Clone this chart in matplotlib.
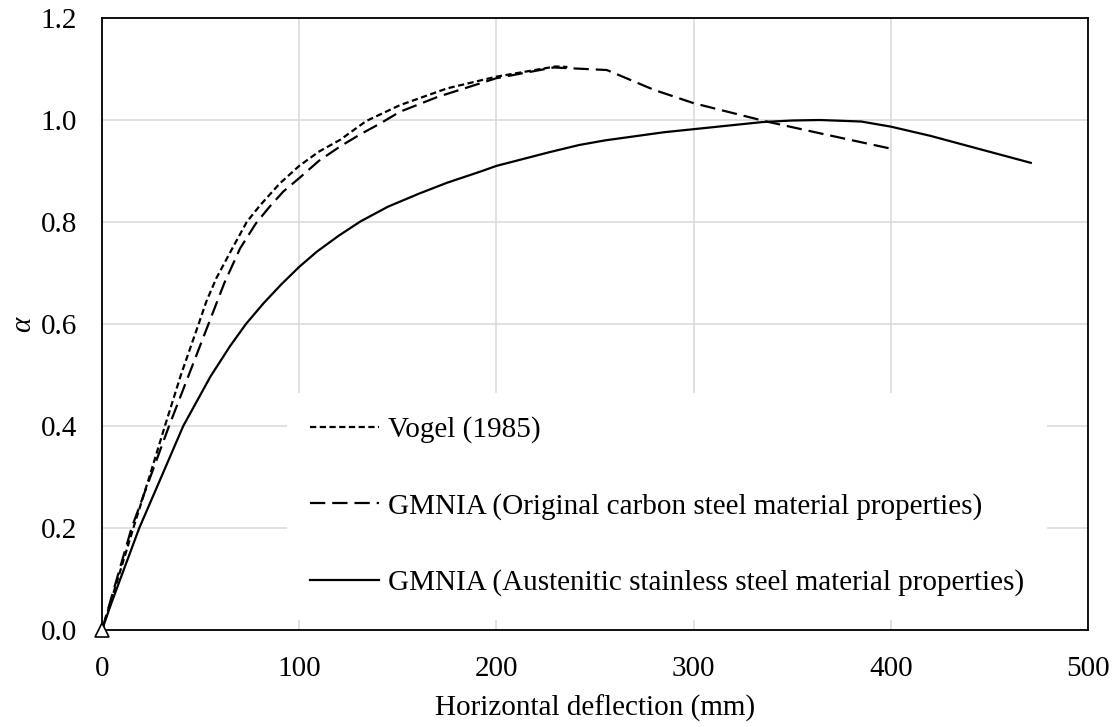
import matplotlib
matplotlib.use('Agg')
from matplotlib import pyplot as plt

# data
vogelX = [0, 8, 15.9, 24, 31.9, 40, 49, 53, 58, 66.6, 73.4, 80, 90, 100, 110, 120.7, 134, 151, 175, 200, 215, 230, 236]
vogelY = [0, 0.1, 0.2, 0.3, 0.4, 0.5, 0.6, 0.645, 0.69, 0.752, 0.8, 0.832, 0.875, 0.91, 0.938, 0.961, 0.998, 1.029, 1.062, 1.085, 1.095, 1.105, 1.104]

carbonX = [0, 15, 34, 44, 54, 62, 70, 78, 85, 92, 100, 110, 120.7, 131, 141, 151, 170, 200, 229, 256, 280, 300, 337, 364, 401]
carbonY = [0, 0.2, 0.4, 0.5, 0.6, 0.68, 0.748, 0.797, 0.83, 0.86, 0.886, 0.92, 0.948, 0.972, 0.993, 1.016, 1.045, 1.082, 1.103, 1.098, 1.059, 1.033, 0.997, 0.974, 0.943]

stainlessX = [0, 4.5, 9.1, 18.9, 29.4, 41.2, 55, 65, 73, 82, 91, 100, 109, 120, 131, 145, 161, 175, 192, 200, 212, 227, 242, 255, 270, 285, 300, 320, 335, 350, 364, 385, 400, 420, 445, 471]
stainlessY = [0, 0.05, 0.098, 0.2, 0.294, 0.4, 0.497, 0.557, 0.6, 0.641, 0.678, 0.712, 0.742, 0.773, 0.801, 0.83, 0.856, 0.877, 0.899, 0.91, 0.922, 0.937, 0.951, 0.96, 0.968, 0.976, 0.982, 0.99, 0.996, 0.999, 1.0, 0.997, 0.987, 0.969, 0.943, 0.916]

labels = ['Vogel (1985)',
          'GMNIA (Original carbon steel material properties)',
          'GMNIA (Austenitic stainless steel material properties)']

xTicks = [0, 100, 200, 300, 400, 500]
yTicks = [0.0, 0.2, 0.4, 0.6, 0.8, 1.0, 1.2]

plt.rcParams['font.family'] = ['Liberation Serif', 'DejaVu Serif']
plt.rcParams['lines.scale_dashes'] = False
fontSize = 21

fig = plt.figure(figsize=(11.18, 7.27), dpi=100)
ax = fig.add_axes([102/1118, 1 - 630/727, 986/1118, 612/727])

ax.plot(vogelX, vogelY, color='black', lw=1.6, dashes=(4.5, 2.5), label=labels[0])
ax.plot(carbonX, carbonY, color='black', lw=1.6, dashes=(11, 5), label=labels[1])
ax.plot(stainlessX, stainlessY, color='black', lw=1.6, label=labels[2])
#support point at the origin
ax.plot([0], [0], marker='^', markersize=10, markerfacecolor='white',
        markeredgecolor='black', markeredgewidth=1.2, ls='none', clip_on=False, zorder=10)

ax.set_xlim(xTicks[0], xTicks[-1])
ax.set_ylim(yTicks[0], yTicks[-1])
ax.set_xticks(xTicks)
ax.set_yticks(yTicks)
ax.set_yticklabels(['{:.1f}'.format(v) for v in yTicks])
ax.tick_params(axis='both', length=0, labelsize=fontSize)
ax.tick_params(axis='x', pad=19)
ax.tick_params(axis='y', pad=18)

ax.grid(True, color='#d9d9d9', lw=1.1)
ax.set_axisbelow(True)
for spine in ax.spines.values():
    spine.set_linewidth(1.3)
    spine.set_color('black')
    spine.set_zorder(6)

ax.set_xlabel('Horizontal deflection (mm)', fontsize=fontSize, labelpad=9)
ax.set_ylabel('α', fontsize=fontSize, style='italic', labelpad=3)

leg = ax.legend(loc='upper left', bbox_to_anchor=(0.1876, 0.387), borderaxespad=0,
                fontsize=fontSize, frameon=True, fancybox=False, framealpha=1,
                facecolor='white', edgecolor='none', borderpad=0.8,
                handlelength=2.35, handletextpad=0.3, labelspacing=1.7)
leg.set_zorder(4)

fig.savefig('out.png', dpi=100)
